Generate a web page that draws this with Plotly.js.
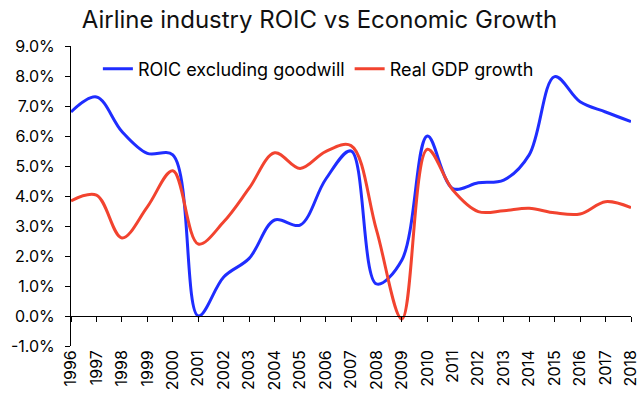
<!DOCTYPE html>
<html><head><meta charset="utf-8">
<script src="https://cdn.plot.ly/plotly-3.0.1.min.js"></script>
<style>html,body{margin:0;padding:0;background:#fff}#c{width:639px;height:396px}</style>
</head><body><div id="c"></div>
<script>
const years = ["1996","1997","1998","1999","2000","2001","2002","2003","2004","2005","2006","2007","2008","2009","2010","2011","2012","2013","2014","2015","2016","2017","2018"];
const roic = [6.8,7.3,6.15,5.42,5.37,0.0,1.3,1.92,3.2,3.03,4.55,5.5,1.07,1.87,6.0,4.25,4.44,4.53,5.37,7.98,7.14,6.8,6.48];
const gdp = [3.84,4.03,2.6,3.64,4.84,2.4,3.14,4.26,5.44,4.92,5.48,5.68,2.87,-0.1,5.56,4.2,3.48,3.51,3.59,3.44,3.4,3.81,3.61];
const yTickVals = [-1,0,1,2,3,4,5,6,7,8,9];
const yTickText = ["-1.0%","0.0%","1.0%","2.0%","3.0%","4.0%","5.0%","6.0%","7.0%","8.0%","9.0%"];
const F = "Inter, 'Liberation Sans', sans-serif";
const traces = [
 {x: years, y: roic, name: "ROIC excluding goodwill", type: "scatter", mode: "lines",
  line: {color: "#1f2dff", width: 3, shape: "spline", smoothing: 1}},
 {x: years, y: gdp, name: "Real GDP growth", type: "scatter", mode: "lines",
  line: {color: "#f2432f", width: 3, shape: "spline", smoothing: 1}},
 {x: years, y: gdp, xaxis: "x2", yaxis: "y", type: "scatter", mode: "lines", showlegend: false, hoverinfo: "skip",
  opacity: 0, line: {width: 0}}
];
const layout = {
 width: 639, height: 396,
 margin: {l: 71, r: 8, t: 46, b: 50},
 paper_bgcolor: "#fff", plot_bgcolor: "#fff",
 font: {family: F, color: "#000", size: 16},
 title: {text: "Airline industry ROIC vs Economic Growth", x: 0.5, xref: "container", xanchor: "center", y: 0.95, yref: "container", yanchor: "middle", font: {size: 24, family: F, color: "#111"}},
 showlegend: true,
 legend: {orientation: "h", x: 0.048, xanchor: "left", y: 0.923, yanchor: "middle", font: {size: 18, family: F}, bgcolor: "rgba(0,0,0,0)"},
 xaxis: {type: "category", range: [0, 22], showline: false, ticks: "", showgrid: false, zeroline: false, tickangle: -90, tickfont: {size: 16}},
 xaxis2: {overlaying: "x", anchor: "free", position: 0.1, side: "bottom", type: "category", range: [0, 22],
  showline: true, linecolor: "#000", linewidth: 1, ticks: "outside", ticklen: 5, tickcolor: "#000", showticklabels: false, showgrid: false, zeroline: false},
 yaxis: {range: [-1, 9], tickvals: yTickVals, ticktext: yTickText, showline: true, linecolor: "#000", linewidth: 1, ticks: "outside", ticklen: 5, tickcolor: "#000", showgrid: false, zeroline: false, tickfont: {size: 16}, ticklabelstandoff: 7}
};
Plotly.newPlot("c", traces, layout, {displayModeBar: false, staticPlot: true});
</script></body></html>
